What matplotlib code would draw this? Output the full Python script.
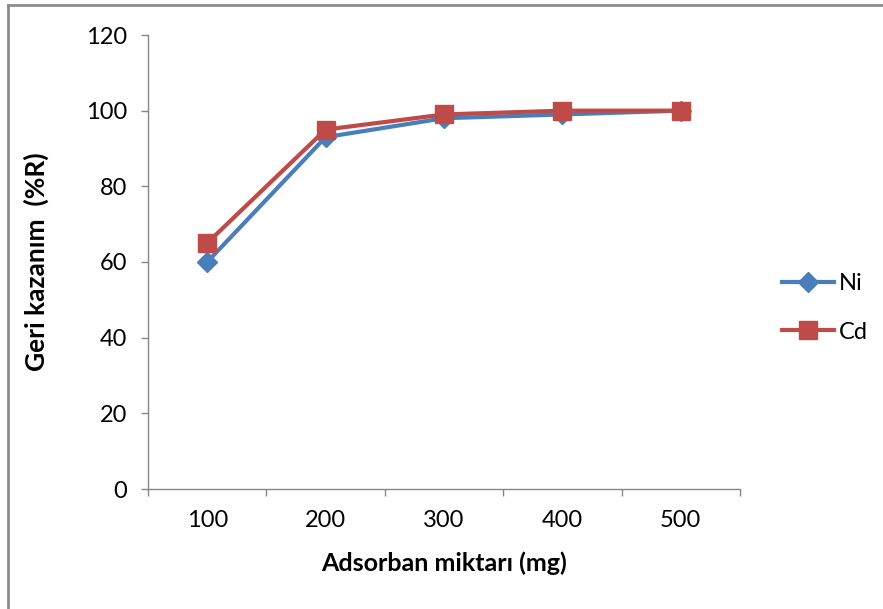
import matplotlib.pyplot as plt
from matplotlib.lines import Line2D
import numpy as np

plt.rcParams['font.family'] = ['Lato', 'DejaVu Sans']

# adsorbent amount (mg) and recovery (%R)
miktar = ['100', '200', '300', '400', '500']
ni_R = [60, 93, 98, 99, 100]
cd_R = [65, 95, 99, 100, 100]

axcol = '#868686'
fs = 17
x = np.arange(len(miktar))

fig = plt.figure(figsize=(8.83, 6.09), dpi=100)
ax = fig.add_axes([148 / 883, 1 - 489 / 609, (740 - 148) / 883, (489 - 35) / 609])

ax.plot(x, ni_R, color='#4A7EBB', lw=3, marker='D', ms=10.5, label='Ni', zorder=3)
ax.plot(x, cd_R, color='#BE4B48', lw=3, marker='s', ms=13, label='Cd', zorder=4)

ax.set_xlim(-0.5, len(miktar) - 0.5)
ax.set_ylim(0, 120)
ax.set_yticks(range(0, 121, 20))
ax.set_xticks(x)
ax.set_xticklabels(miktar)
ax.set_xticks(np.arange(-0.5, len(miktar)), minor=True)
ax.tick_params(axis='x', which='major', length=0, pad=15, labelsize=fs)
ax.tick_params(axis='x', which='minor', length=5, color=axcol, width=1)
ax.tick_params(axis='y', length=5, color=axcol, width=1, pad=10, labelsize=fs)

for s in ['top', 'right']:
    ax.spines[s].set_visible(False)
for s in ['left', 'bottom']:
    ax.spines[s].set_color(axcol)
    ax.spines[s].set_linewidth(1)

ax.set_xlabel('Adsorban miktarı (mg)', fontsize=18, fontweight='bold', va='center')
ax.xaxis.set_label_coords(0.5, (489 - 563) / 454)
ax.set_ylabel('Geri kazanım  (%R)', fontsize=19, fontweight='bold', va='center')
ax.yaxis.set_label_coords((36 - 148) / 592, (489 - 262) / 454)

ax.legend(loc='center left', bbox_to_anchor=(761 / 883, 1 - 308 / 609),
          bbox_transform=fig.transFigure, frameon=False, fontsize=fs,
          handlelength=2.2, labelspacing=1.15, handletextpad=0.2)

# outer chart frame (only top and left edges are visible)
fig.add_artist(Line2D([8 / 883, 1], [1 - 5 / 609, 1 - 5 / 609], color='#8c8c8c', lw=2))
fig.add_artist(Line2D([8 / 883, 8 / 883], [0, 1 - 5 / 609], color='#8c8c8c', lw=2))

fig.savefig('out.png', dpi=100)
